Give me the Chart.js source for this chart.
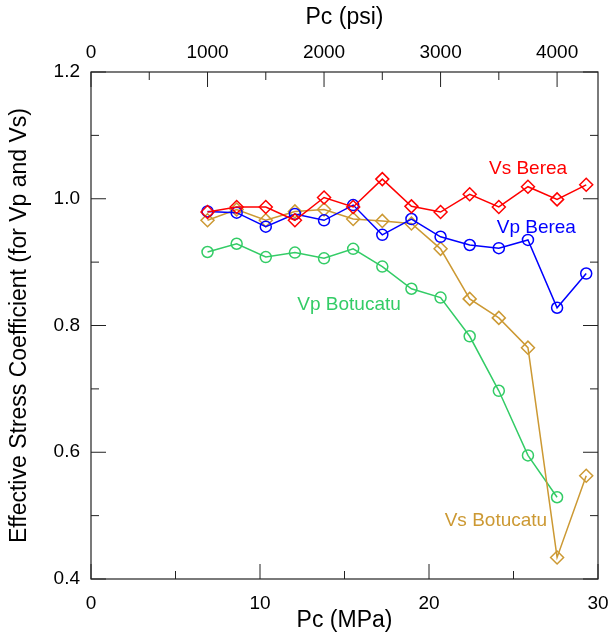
<!DOCTYPE html>
<html>
<head>
<meta charset="utf-8">
<script src="https://cdn.jsdelivr.net/npm/chart.js@4/dist/chart.umd.min.js"></script>
<style>
  html, body { margin: 0; padding: 0; background: #fff; }
  #wrap { width: 611px; height: 639px; }
</style>
</head>
<body>
<div id="wrap"><canvas id="grafico"></canvas></div>
<script>
// confining pressure steps (psi) and measured coefficients
const presionPsi = [1000, 1250, 1500, 1750, 2000, 2250, 2500, 2750, 3000, 3250, 3500, 3750, 4000, 4250];
const vsBerea = [0.979, 0.987, 0.987, 0.966, 1.002, 0.987, 1.031, 0.988, 0.979, 1.007, 0.987, 1.019, 0.999, 1.022];
const vpBerea = [0.980, 0.978, 0.956, 0.976, 0.966, 0.990, 0.943, 0.968, 0.940, 0.927, 0.922, 0.935, 0.828, 0.882];
const vsBotucatu = [0.966, 0.983, 0.966, 0.980, 0.983, 0.968, 0.965, 0.961, 0.921, 0.842, 0.812, 0.765, 0.434, 0.563];
const vpBotucatu = [0.916, 0.929, 0.908, 0.915, 0.906, 0.921, 0.893, 0.858, 0.844, 0.783, 0.697, 0.595, 0.529];

const ticksMPa = [0, 10, 20, 30];
const ticksPsi = [0, 1000, 2000, 3000, 4000];
const ticksY = [0.4, 0.6, 0.8, 1.0, 1.2];

const PSI_POR_MPA = 145.0377;

const etiquetas = [
  { texto: 'Vs Berea', x: 25.86, y: 1.047, color: '#ff0000' },
  { texto: 'Vp Berea', x: 26.35, y: 0.955, color: '#0000ff' },
  { texto: 'Vp Botucatu', x: 15.27, y: 0.832, color: '#33cc66' },
  { texto: 'Vs Botucatu', x: 23.96, y: 0.492, color: '#cc9933' }
];

const aPuntos = valores => valores.map((v, i) => ({ x: presionPsi[i] / PSI_POR_MPA, y: v }));

const serie = (nombre, valores, color, forma, radio) => ({
  label: nombre,
  data: aPuntos(valores),
  borderColor: color,
  backgroundColor: 'rgba(0,0,0,0)',
  borderWidth: 1.5,
  pointStyle: forma,
  pointRadius: radio,
  pointBorderWidth: 1.5,
  pointBorderColor: color,
  pointBackgroundColor: 'rgba(0,0,0,0)',
  tension: 0
});

const FUENTE = "'Liberation Sans', Arial, sans-serif";

// frame with inward ticks on all four sides
const marco = {
  id: 'marco',
  afterDraw(chart) {
    const { ctx, chartArea: a, scales } = chart;
    const mayor = 15, menor = 8;
    ctx.save();
    ctx.strokeStyle = '#222';
    ctx.lineWidth = 1.2;
    ctx.strokeRect(a.left, a.top, a.right - a.left, a.bottom - a.top);
    ctx.lineWidth = 1;
    ctx.beginPath();
    for (let v = 0; v <= 30.001; v += 5) {
      const px = scales.x.getPixelForValue(v);
      const l = Math.abs(v % 10) < 0.01 ? mayor : menor;
      ctx.moveTo(px, a.bottom); ctx.lineTo(px, a.bottom - l);
    }
    for (let v = 0; v <= 4300; v += 500) {
      const px = scales.xp.getPixelForValue(v);
      const l = v % 1000 === 0 ? mayor : menor;
      ctx.moveTo(px, a.top); ctx.lineTo(px, a.top + l);
    }
    for (let k = 4; k <= 12; k++) {
      const py = scales.y.getPixelForValue(k / 10);
      const l = k % 2 === 0 ? mayor : menor;
      ctx.moveTo(a.left, py); ctx.lineTo(a.left + l, py);
      ctx.moveTo(a.right, py); ctx.lineTo(a.right - l, py);
    }
    ctx.stroke();
    ctx.restore();
  },
  afterDatasetsDraw(chart) {
    const { ctx, scales } = chart;
    ctx.save();
    ctx.font = '19px ' + FUENTE;
    ctx.textAlign = 'center';
    ctx.textBaseline = 'middle';
    etiquetas.forEach(e => {
      ctx.fillStyle = e.color;
      ctx.fillText(e.texto, scales.x.getPixelForValue(e.x), scales.y.getPixelForValue(e.y));
    });
    ctx.restore();
  }
};

const sinRelleno = s => { s.paddingLeft = 0; s.paddingRight = 0; };

new Chart(document.getElementById('grafico'), {
  type: 'line',
  data: {
    datasets: [
      serie('Vs Berea', vsBerea, '#ff0000', 'rectRot', 6.5),
      serie('Vp Berea', vpBerea, '#0000ff', 'circle', 5.5),
      serie('Vs Botucatu', vsBotucatu, '#cc9933', 'rectRot', 6.5),
      serie('Vp Botucatu', vpBotucatu, '#33cc66', 'circle', 5.5)
    ]
  },
  options: {
    responsive: true,
    maintainAspectRatio: false,
    animation: false,
    layout: { padding: { right: 13, top: 0, left: 0, bottom: 0 } },
    plugins: { legend: { display: false }, tooltip: { enabled: false } },
    scales: {
      x: {
        type: 'linear',
        position: 'bottom',
        min: 0,
        max: 30,
        afterBuildTicks: s => { s.ticks = ticksMPa.map(v => ({ value: v })); },
        afterFit: s => { s.height = 60; sinRelleno(s); },
        grid: { display: false, drawTicks: false },
        border: { display: false },
        ticks: { color: '#000', padding: 13, maxRotation: 0, font: { size: 19, family: FUENTE }, callback: v => String(v) },
        title: { display: true, text: 'Pc (MPa)', color: '#000', padding: { top: 0, bottom: 5 }, font: { size: 23, family: FUENTE } }
      },
      xp: {
        type: 'linear',
        position: 'top',
        min: 0,
        max: 30 * PSI_POR_MPA,
        afterBuildTicks: s => { s.ticks = ticksPsi.map(v => ({ value: v })); },
        afterFit: s => { s.height = 72; sinRelleno(s); },
        grid: { display: false, drawTicks: false },
        border: { display: false },
        ticks: { color: '#000', padding: 8, maxRotation: 0, font: { size: 19, family: FUENTE }, callback: v => String(v) },
        title: { display: true, text: 'Pc (psi)', color: '#000', padding: { top: 4, bottom: 0 }, font: { size: 23, family: FUENTE } }
      },
      y: {
        type: 'linear',
        min: 0.4,
        max: 1.2,
        afterBuildTicks: s => { s.ticks = ticksY.map(v => ({ value: v })); },
        afterFit: s => { s.width = 91; },
        grid: { display: false, drawTicks: false },
        border: { display: false },
        ticks: { color: '#000', padding: 11, font: { size: 19, family: FUENTE }, callback: v => v.toFixed(1) },
        title: { display: true, text: 'Effective Stress Coefficient (for Vp and Vs)', color: '#000', padding: { top: 6, bottom: 0 }, font: { size: 23, family: FUENTE } }
      }
    }
  },
  plugins: [marco]
});
</script>
</body>
</html>
